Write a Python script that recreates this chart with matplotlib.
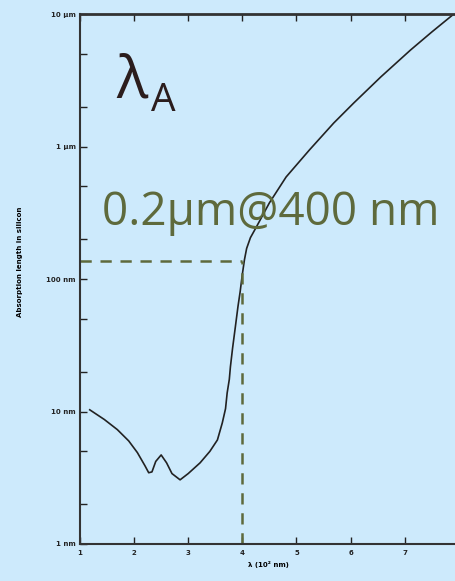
import matplotlib
matplotlib.use("Agg")
import matplotlib.pyplot as plt
from matplotlib.ticker import LogLocator, NullFormatter, FixedLocator

# absorption length of silicon vs wavelength (x in 10^2 nm, y in nm)
wavelength = [1.18, 1.45, 1.69, 1.9, 2.06, 2.2, 2.27, 2.33, 2.4, 2.5, 2.6, 2.7,
              2.85, 3.0, 3.22, 3.4, 3.54, 3.63, 3.69, 3.72, 3.76, 3.78, 3.82,
              3.87, 3.92, 3.96, 4.0, 4.04, 4.08, 4.15, 4.26, 4.5, 4.81, 5.24,
              5.69, 6.06, 6.56, 7.11, 7.5, 7.91]
abs_length = [10.3, 8.7, 7.3, 6.0, 4.9, 3.9, 3.45, 3.5, 4.2, 4.7, 4.1, 3.4,
              3.05, 3.4, 4.1, 5.0, 6.1, 8.2, 10.5, 13.8, 17.5, 21.7, 30,
              43, 62, 80, 108, 140, 170, 205, 247, 375, 589, 941,
              1504, 2130, 3350, 5350, 7300, 10000]

ytick_vals = [1, 10, 100, 1000, 10000]
ytick_labels = ["1 nm", "10 nm", "100 nm", "1 \u03bcm", "10 \u03bcm"]
xtick_vals = [1, 2, 3, 4, 5, 6, 7]

mark_x = 4.0
mark_y = 137

bg = "#cdeafc"
olive = "#5e6a3c"

fig = plt.figure(figsize=(4.56, 5.81), dpi=100, facecolor=bg)
ax = fig.add_axes([80 / 456, 1 - 544 / 581, 376 / 456, 530 / 581])
ax.set_facecolor(bg)

ax.plot(wavelength, abs_length, color="#222222", lw=1.2)

ax.set_yscale("log")
ax.set_ylim(1, 10000)
ax.set_xlim(1, 7.95)

ax.yaxis.set_major_locator(FixedLocator(ytick_vals))
ax.set_yticklabels(ytick_labels)
ax.yaxis.set_minor_locator(LogLocator(base=10, subs=(2.0, 5.0)))
ax.yaxis.set_minor_formatter(NullFormatter())
ax.set_xticks(xtick_vals)

ax.tick_params(axis="both", which="both", direction="in", top=True,
               right=False, colors="#222222", labelsize=5)
ax.tick_params(axis="both", which="major", length=5, width=1)
ax.tick_params(axis="y", which="minor", length=5, width=1)
ax.tick_params(axis="y", pad=3)
ax.tick_params(axis="x", pad=4)
for lbl in ax.get_xticklabels() + ax.get_yticklabels():
    lbl.set_fontweight("bold")

ax.spines["right"].set_visible(False)
ax.spines["top"].set_linewidth(2)
ax.spines["left"].set_linewidth(1.5)
ax.spines["bottom"].set_linewidth(1.5)
for s in ax.spines.values():
    s.set_color("#333333")

# dashed marker lines at 400 nm
ax.plot([1, mark_x], [mark_y, mark_y], color=olive, lw=1.8, ls=(0, (4.5, 3.5)))
ax.plot([mark_x, mark_x], [1, mark_y], color=olive, lw=1.8, ls=(0, (4.5, 3.5)))

ax.set_xlabel("\u03bb (10\u00b2 nm)", fontsize=5, fontweight="bold", labelpad=4)
fig.text(20 / 456, 1 - 262 / 581, "Absorption length in silicon", rotation=90,
         fontsize=5, fontweight="bold", ha="center", va="center")

fig.text(116 / 456, 1 - 97 / 581, "\u03bb", fontsize=42, color="#2b1d1d",
         family="Open Sans", ha="left", va="baseline")
fig.text(151 / 456, 1 - 111 / 581, "A", fontsize=28, color="#2b1d1d",
         family="Open Sans", ha="left", va="baseline")
fig.text(102 / 456, 1 - 225 / 581, "0.2\u03bcm@400 nm", fontsize=33,
         color=olive, family="Open Sans", ha="left", va="baseline")

fig.savefig("out.png", dpi=100, facecolor=bg)
